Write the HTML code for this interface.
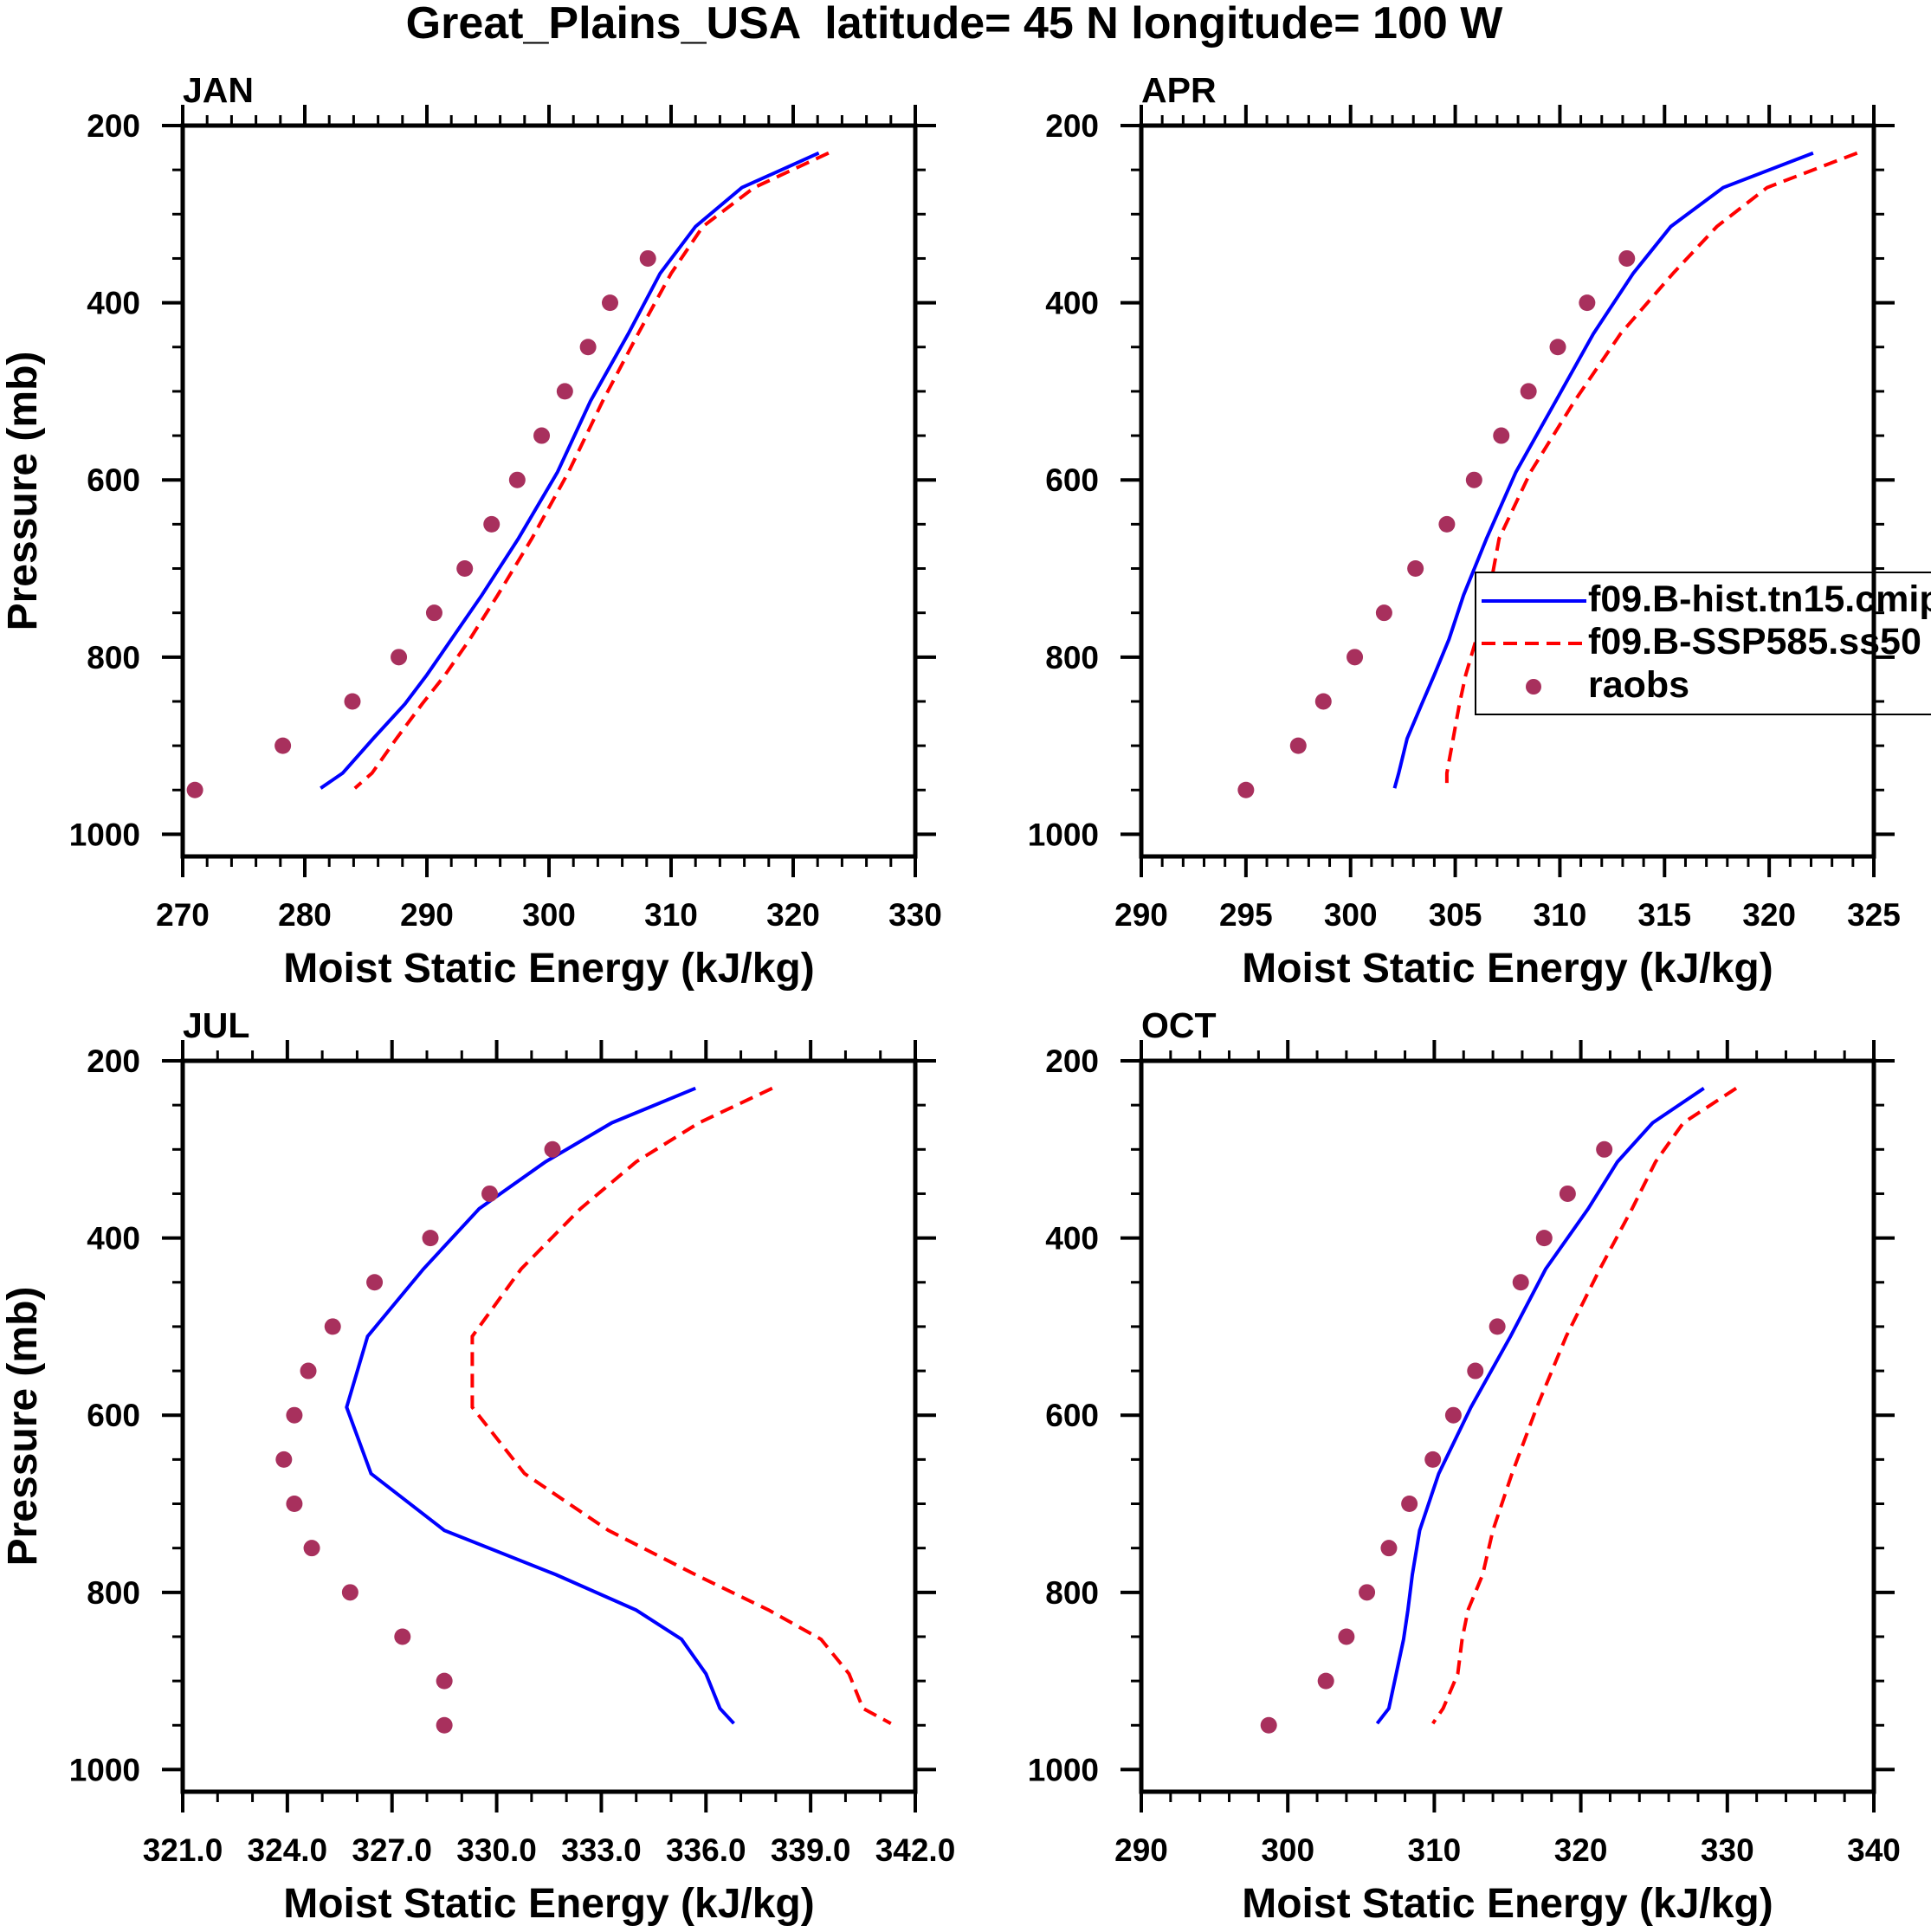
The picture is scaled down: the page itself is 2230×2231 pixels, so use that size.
<!DOCTYPE html>
<html><head><meta charset="utf-8"><style>
html,body{margin:0;padding:0;background:#fff;}
svg{display:block;font-family:"Liberation Sans",Arial,sans-serif;font-weight:bold;}
</style></head><body>
<svg id="chart" width="2230" height="2231" viewBox="0 0 2230 2231" xmlns="http://www.w3.org/2000/svg">
<rect width="2230" height="2231" fill="#fff"/>
<text x="1102" y="44" font-size="52" text-anchor="middle" style="white-space:pre">Great_Plains_USA  latitude= 45 N longitude= 100 W</text>
</svg>
<script>
// ---- data ----
const modelLevels = [231,270,314,367,435,511,591,666,730,780,820,853,892,931,948];
const obsLevels = [300,350,400,450,500,550,600,650,700,750,800,850,900,950];

const janHist = [322.1,315.8,312.0,309.1,306.5,303.4,300.7,297.5,294.5,292.0,290.0,288.2,285.6,283.1,281.3];
const janSsp  = [322.9,316.8,312.6,310.0,307.3,304.4,301.6,298.6,295.8,293.5,291.5,289.6,287.5,285.5,284.1];
const janObs  = [null,308.1,305.0,303.2,301.3,299.4,297.4,295.3,293.1,290.6,287.7,283.9,278.2,271.0];

const aprHist = [322.1,317.8,315.3,313.5,311.6,309.8,307.9,306.5,305.4,304.7,304.0,303.4,302.7,302.3,302.1];
const aprSsp  = [324.2,319.9,317.5,315.4,312.9,310.7,308.6,307.1,306.6,306.0,305.5,305.2,304.9,304.6,304.6];
const aprObs  = [null,313.2,311.3,309.9,308.5,307.2,305.9,304.6,303.1,301.6,300.2,298.7,297.5,295.0];

const julHist = [335.7,333.3,331.4,329.5,327.9,326.3,325.7,326.4,328.5,331.7,334.0,335.3,336.0,336.4,336.8];
const julSsp  = [337.9,335.8,334.0,332.4,330.7,329.3,329.3,330.8,333.2,335.7,337.8,339.3,340.1,340.5,341.3];
const julObs  = [331.6,329.8,328.1,326.5,325.3,324.6,324.2,323.9,324.2,324.7,325.8,327.3,328.5,328.5];

const octHist = [328.4,324.9,322.5,320.5,317.6,315.2,312.5,310.3,309.0,308.5,308.2,307.9,307.4,306.9,306.1];
const octSsp  = [330.6,327.0,325.1,323.5,321.3,319.0,317.0,315.3,314.0,313.3,312.3,311.9,311.6,310.6,309.9];
const octObs  = [321.6,319.1,317.5,315.9,314.3,312.8,311.3,309.9,308.3,306.9,305.4,304.0,302.6,298.7];

const janXTicks = [270,280,290,300,310,320,330];
const aprXTicks = [290,295,300,305,310,315,320,325];
const julXTicks = [321,324,327,330,333,336,339,342];
const octXTicks = [290,300,310,320,330,340];
const yTicks = [200,400,600,800,1000];

const panels = [
 {name:'jan',label:'JAN',x0:211,y0:145,xmin:270,xmax:330,ticks:janXTicks,minor:2,dec:0,hist:janHist,ssp:janSsp,obs:janObs},
 {name:'apr',label:'APR',x0:1318,y0:145,xmin:290,xmax:325,ticks:aprXTicks,minor:1,dec:0,hist:aprHist,ssp:aprSsp,obs:aprObs},
 {name:'jul',label:'JUL',x0:211,y0:1225,xmin:321,xmax:342,ticks:julXTicks,minor:1,dec:1,hist:julHist,ssp:julSsp,obs:julObs},
 {name:'oct',label:'OCT',x0:1318,y0:1225,xmin:290,xmax:340,ticks:octXTicks,minor:2,dec:0,hist:octHist,ssp:octSsp,obs:octObs}
];
const W=846, H=844, PMIN=200, PMAX=1025;
const NS='http://www.w3.org/2000/svg';
const svg=document.getElementById('chart');
function mk(tag,attrs,parent){const e=document.createElementNS(NS,tag);for(const k in attrs)e.setAttribute(k,attrs[k]);(parent||svg).appendChild(e);return e;}

panels.forEach(p=>{
  const xs=v=>p.x0+(v-p.xmin)/(p.xmax-p.xmin)*W;
  const ys=v=>p.y0+(v-PMIN)/(PMAX-PMIN)*H;
  const g=mk('g',{});
  
  
  const lab=mk('text',{x:p.x0,y:p.y0-27,'font-size':41},g);lab.textContent=p.label;
  
  
  const pts=arr=>arr.map((v,i)=>xs(v).toFixed(1)+','+ys(modelLevels[i]).toFixed(1)).join(' ');
  const h=mk('polyline',{points:pts(p.hist),fill:'none',stroke:'#0000ff','stroke-width':4},g);
  
  
  const s=mk('polyline',{points:pts(p.ssp),fill:'none',stroke:'#ff0000','stroke-width':4,'stroke-dasharray':'16 9'},g);
  
  
  p.obs.forEach((v,i)=>{ if(v===null) return;
    const c=mk('circle',{cx:xs(v),cy:ys(obsLevels[i]),r:9.5,fill:'#a8305d'},g);
    
    
  });
  if(p.name==='apr'){
    const lg=mk('g',{},g);
    
    
    mk('rect',{x:1704,y:661,width:600,height:164,fill:'#fff',stroke:'#000','stroke-width':2},lg);
    mk('line',{x1:1711,y1:694,x2:1832,y2:694,stroke:'#0000ff','stroke-width':4},lg);
    mk('line',{x1:1711,y1:743,x2:1832,y2:743,stroke:'#ff0000','stroke-width':4,'stroke-dasharray':'16 9'},lg);
    mk('circle',{cx:1771,cy:793,r:9,fill:'#a8305d'},lg);
    [['f09.B-hist.tn15.cmip',706,'legend-entry-hist'],['f09.B-SSP585.ss50',755,'legend-entry-ssp585'],['raobs',805,'legend-entry-raobs']].forEach(t=>{
      const tx=mk('text',{x:1834,y:t[1],'font-size':43},lg);tx.textContent=t[0];
      
      
    });
  }
  const fr=mk('rect',{x:p.x0,y:p.y0,width:W,height:H,fill:'none',stroke:'#000','stroke-width':5},g);
  
  
  for(let v=p.xmin; v<=p.xmax+1e-6; v+=p.minor){
    const major=p.ticks.some(t=>Math.abs(t-v)<1e-6);
    const L=major?24:12, x=xs(v);
    mk('line',{x1:x,y1:p.y0+H,x2:x,y2:p.y0+H+L,stroke:'#000','stroke-width':major?4:3},g);
    mk('line',{x1:x,y1:p.y0,x2:x,y2:p.y0-L,stroke:'#000','stroke-width':major?4:3},g);
  }
  p.ticks.forEach(t=>{
    const tx=mk('text',{x:xs(t),y:p.y0+H+80,'font-size':37,'text-anchor':'middle'},g);
    tx.textContent=t.toFixed(p.dec);
    
    
  });
  for(let v=200; v<=1000; v+=50){
    const major=v%200===0, L=major?24:12, y=ys(v);
    mk('line',{x1:p.x0,y1:y,x2:p.x0-L,y2:y,stroke:'#000','stroke-width':major?4:3},g);
    mk('line',{x1:p.x0+W,y1:y,x2:p.x0+W+L,y2:y,stroke:'#000','stroke-width':major?4:3},g);
  }
  yTicks.forEach(t=>{
    const tx=mk('text',{x:p.x0-49,y:ys(t)+13,'font-size':37,'text-anchor':'end'},g);
    tx.textContent=String(t);
    
    
  });
  const xt=mk('text',{x:p.x0+W/2,y:p.y0+H+145,'font-size':48,'text-anchor':'middle'},g);
  xt.textContent='Moist Static Energy (kJ/kg)';
  
  
  if(p.x0<500){
    const yt=mk('text',{x:0,y:0,'font-size':48,'text-anchor':'middle',transform:`translate(42,${p.y0+H/2}) rotate(-90)`},g);
    yt.textContent='Pressure (mb)';
    
    
  }
});
</script>
</body></html>
